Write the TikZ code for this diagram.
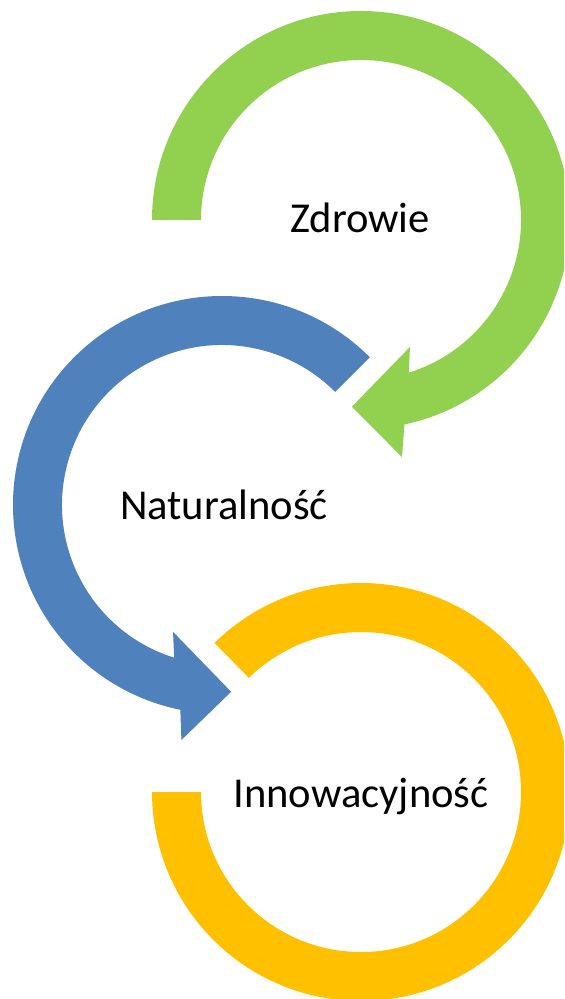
\documentclass[tikz,border=0pt]{standalone}
\usepackage{fontspec}
\setmainfont{Carlito}
\definecolor{cgreen}{HTML}{92D050}
\definecolor{cblue}{HTML}{4F81BD}
\definecolor{cyellow}{HTML}{FFC000}
\begin{document}
\begin{tikzpicture}[x=0.5pt,y=-0.5pt,
  lbl/.style={inner sep=0pt, anchor=base, font=\fontsize{21.3}{25}\selectfont, text=black}]
\clip (0,0) rectangle (564,999);
\fill[white] (0,0) rectangle (564,999);
\coordinate (g) at (361,220);
\coordinate (b) at (222,505);
\coordinate (y) at (361,792);
% green arrow (clockwise)
\fill[cgreen] ([shift={(180:209)}]g) arc[start angle=180, end angle=438, radius=209]
  -- ([shift={(80.2:240.5)}]g) -- ([shift={(92.8:187)}]g) -- ([shift={(68.9:136)}]g)
  -- ([shift={(72.6:160)}]g) arc[start angle=432.6, end angle=180, radius=160] -- cycle;
% blue arrow (counter-clockwise)
\fill[cblue] ([shift={(315:209)}]b) arc[start angle=315, end angle=101.5, radius=209]
  -- ([shift={(99.8:238.5)}]b) -- ([shift={(87.2:187)}]b) -- ([shift={(111.1:136)}]b)
  -- ([shift={(107.4:160)}]b) arc[start angle=107.4, end angle=315, radius=160] -- cycle;
% yellow ring
\fill[cyellow] ([shift={(225.5:209)}]y) arc[start angle=225.5, end angle=540, radius=209]
  -- ([shift={(180:160)}]y) arc[start angle=540, end angle=225.5, radius=160] -- cycle;
\node[lbl] (t1) at (360,233) {Zdrowie};
\node[lbl] (t2) at (224,519) {Naturalność};
\node[lbl] (t3) at (361,807) {Innowacyjność};
\end{tikzpicture}
\end{document}
